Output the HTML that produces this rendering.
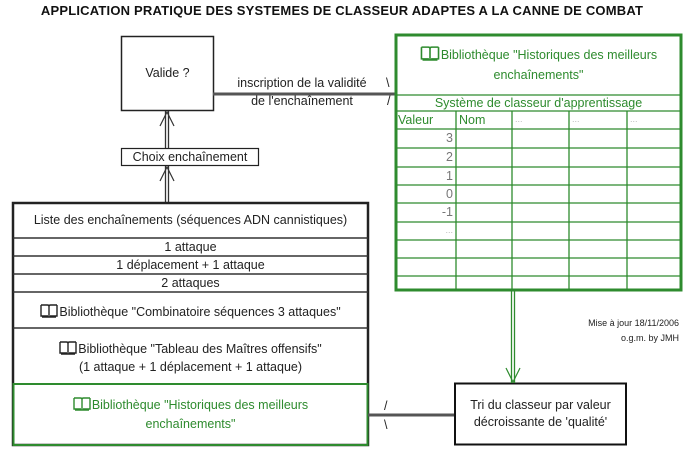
<!DOCTYPE html>
<html><head><meta charset="utf-8"><style>
body{margin:0;width:684px;height:453px;background:#fff;position:relative;overflow:hidden;font-family:"Liberation Sans",Arial,sans-serif;font-size:12.5px;color:#222}
.a{position:absolute}
.c{position:absolute;text-align:center;white-space:nowrap}
.g{color:#2e8b2e}
svg.bk{vertical-align:-2px;margin-right:1px}
</style></head><body>
<div class="c" style="left:0;width:684px;top:3px;font-weight:bold;font-size:13px;color:#111;letter-spacing:0.2px">APPLICATION PRATIQUE DES SYSTEMES DE CLASSEUR ADAPTES A LA CANNE DE COMBAT</div>

<svg class="a" style="left:0;top:0" width="684" height="453">
<!-- Valide box -->
<rect x="121.5" y="36.5" width="92" height="74" fill="none" stroke="#222" stroke-width="1.5"/>
<!-- line to green -->
<line x1="213" y1="94" x2="396" y2="94" stroke="#555" stroke-width="3"/>
<!-- double vertical arrows -->
<line x1="165.5" y1="111" x2="165.5" y2="148" stroke="#333" stroke-width="1.3"/>
<line x1="168.5" y1="111" x2="168.5" y2="148" stroke="#333" stroke-width="1.3"/>
<polyline points="160,126 167,112 174,126" fill="none" stroke="#333" stroke-width="1.2"/>
<line x1="165.5" y1="166" x2="165.5" y2="203" stroke="#333" stroke-width="1.3"/>
<line x1="168.5" y1="166" x2="168.5" y2="203" stroke="#333" stroke-width="1.3"/>
<polyline points="160,181 167,167 174,181" fill="none" stroke="#333" stroke-width="1.2"/>
<!-- Choix box -->
<rect x="121.5" y="148.5" width="137" height="17" fill="#fff" stroke="#222" stroke-width="1.2"/>
<!-- list box -->
<rect x="13" y="203" width="355" height="242" fill="none" stroke="#222" stroke-width="2.5"/>
<g stroke="#333" stroke-width="1.5">
<line x1="13" y1="238" x2="368" y2="238"/>
<line x1="13" y1="256" x2="368" y2="256"/>
<line x1="13" y1="274" x2="368" y2="274"/>
<line x1="13" y1="292" x2="368" y2="292"/>
<line x1="13" y1="328" x2="368" y2="328"/>
</g>
<rect x="13.5" y="384" width="354" height="61" fill="none" stroke="#2e8b2e" stroke-width="2"/>
<!-- line list to Tri -->
<line x1="368" y1="415" x2="455" y2="415" stroke="#555" stroke-width="3"/>
<!-- Tri box -->
<rect x="455" y="383.5" width="171" height="61" fill="none" stroke="#111" stroke-width="2"/>
<!-- green box -->
<rect x="396" y="35" width="285" height="255" fill="none" stroke="#2e8b2e" stroke-width="3"/>
<g stroke="#2e8b2e" stroke-width="1.3">
<line x1="396" y1="95" x2="681" y2="95"/>
<line x1="396" y1="111" x2="681" y2="111"/>
<line x1="396" y1="129" x2="681" y2="129"/>
<line x1="396" y1="148" x2="681" y2="148"/>
<line x1="396" y1="167" x2="681" y2="167"/>
<line x1="396" y1="185" x2="681" y2="185"/>
<line x1="396" y1="203" x2="681" y2="203"/>
<line x1="396" y1="222" x2="681" y2="222"/>
<line x1="396" y1="240" x2="681" y2="240"/>
<line x1="396" y1="258" x2="681" y2="258"/>
<line x1="396" y1="276" x2="681" y2="276"/>
<line x1="456" y1="111" x2="456" y2="290"/>
<line x1="512" y1="111" x2="512" y2="290"/>
<line x1="569" y1="111" x2="569" y2="290"/>
<line x1="627" y1="111" x2="627" y2="290"/>
</g>
<!-- green double arrow down -->
<line x1="511.5" y1="291" x2="511.5" y2="383" stroke="#2e8b2e" stroke-width="1.3"/>
<line x1="514.5" y1="291" x2="514.5" y2="383" stroke="#2e8b2e" stroke-width="1.3"/>
<polyline points="506,368 513,382 520,368" fill="none" stroke="#2e8b2e" stroke-width="1.2"/>
</svg>

<div class="c" style="left:121px;width:93px;top:66px">Valide ?</div>
<div class="c" style="left:222px;width:160px;top:76px">inscription de la validité</div>
<div class="c" style="left:222px;width:160px;top:94px">de l'enchaînement</div>
<div class="a" style="left:386px;top:76px">\</div>
<div class="a" style="left:387px;top:94px">/</div>
<div class="c" style="left:121px;width:138px;top:150px">Choix enchaînement</div>

<div class="c" style="left:13px;width:355px;top:213px">Liste des enchaînements (séquences ADN cannistiques)</div>
<div class="c" style="left:13px;width:355px;top:240px">1 attaque</div>
<div class="c" style="left:13px;width:355px;top:258px">1 déplacement + 1 attaque</div>
<div class="c" style="left:13px;width:355px;top:276px">2 attaques</div>
<div class="c" style="left:13px;width:355px;top:303px"><svg class="bk" width="18" height="15" viewBox="0 0 18 15"><path d="M1 2h6.5c1 0 1.5.5 1.5 1.5V14M17 2h-6.5c-1 0-1.5.5-1.5 1.5M1 2v11h7M17 2v11h-7M2 14h14" fill="none" stroke="#222" stroke-width="1.4"/></svg>Bibliothèque "Combinatoire séquences 3 attaques"</div>
<div class="c" style="left:13px;width:355px;top:340px"><svg class="bk" width="18" height="15" viewBox="0 0 18 15"><path d="M1 2h6.5c1 0 1.5.5 1.5 1.5V14M17 2h-6.5c-1 0-1.5.5-1.5 1.5M1 2v11h7M17 2v11h-7M2 14h14" fill="none" stroke="#222" stroke-width="1.4"/></svg>Bibliothèque "Tableau des Maîtres offensifs"</div>
<div class="c" style="left:13px;width:355px;top:360px">(1 attaque + 1 déplacement + 1 attaque)</div>
<div class="c g" style="left:13px;width:355px;top:396px"><svg class="bk" width="18" height="15" viewBox="0 0 18 15"><path d="M1 2h6.5c1 0 1.5.5 1.5 1.5V14M17 2h-6.5c-1 0-1.5.5-1.5 1.5M1 2v11h7M17 2v11h-7M2 14h14" fill="none" stroke="#2e8b2e" stroke-width="1.4"/></svg>Bibliothèque "Historiques des meilleurs</div>
<div class="c g" style="left:13px;width:355px;top:417px">enchaînements"</div>
<div class="a" style="left:384px;top:399px">/</div>
<div class="a" style="left:384px;top:418px">\</div>

<div class="c" style="left:455px;width:171px;top:398px">Tri du classeur par valeur</div>
<div class="c" style="left:455px;width:171px;top:415px">décroissante de 'qualité'</div>

<div class="a" style="right:5px;top:316px;font-size:9px;text-align:right;line-height:15px;color:#222">Mise à jour 18/11/2006<br>o.g.m. by JMH</div>

<div class="c g" style="left:396px;width:285px;top:45px"><svg class="bk" width="20" height="16" viewBox="0 0 18 15"><path d="M1 2h6.5c1 0 1.5.5 1.5 1.5V14M17 2h-6.5c-1 0-1.5.5-1.5 1.5M1 2v11h7M17 2v11h-7M2 14h14" fill="none" stroke="#2e8b2e" stroke-width="1.5"/></svg>Bibliothèque "Historiques des meilleurs</div>
<div class="c g" style="left:396px;width:285px;top:68px">enchaînements"</div>
<div class="c g" style="left:396px;width:285px;top:96px">Système de classeur d'apprentissage</div>
<div class="a g" style="left:398px;top:113px">Valeur</div>
<div class="a g" style="left:459px;top:113px">Nom</div>
<div class="a" style="left:515px;top:114px;color:#bbb;font-size:9px">...</div>
<div class="a" style="left:572px;top:114px;color:#bbb;font-size:9px">...</div>
<div class="a" style="left:630px;top:114px;color:#bbb;font-size:9px">...</div>
<div class="a" style="left:396px;width:57px;text-align:right;top:131px;color:#777">3</div>
<div class="a" style="left:396px;width:57px;text-align:right;top:150px;color:#777">2</div>
<div class="a" style="left:396px;width:57px;text-align:right;top:169px;color:#777">1</div>
<div class="a" style="left:396px;width:57px;text-align:right;top:187px;color:#777">0</div>
<div class="a" style="left:396px;width:57px;text-align:right;top:205px;color:#777">-1</div>
<div class="a" style="left:396px;width:57px;text-align:right;top:225px;color:#bbb;font-size:9px">...</div>
</body></html>
